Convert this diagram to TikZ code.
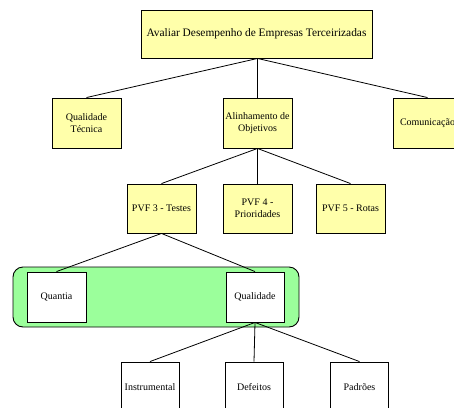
\documentclass[tikz,border=0pt]{standalone}
\usepackage{fontspec}
\setmainfont{Liberation Serif}
\definecolor{boxyellow}{RGB}{255,255,170}
\definecolor{groupgreen}{RGB}{155,255,155}

\begin{document}
\begin{tikzpicture}[x=1pt,y=-1pt]
        \tikzstyle{every node}+=[inner sep=0pt, font=\fontsize{10}{12.5}\selectfont, align=center]
        \tikzstyle{crit}=[draw=black, line width=0.9pt, fill=boxyellow, minimum width=69pt, minimum height=49pt]
        \tikzstyle{leaf}=[draw=black, line width=0.9pt, fill=white, minimum width=58pt, minimum height=50pt]
        \tikzstyle{link}=[black, line width=0.8pt]
        \clip (0,0) rectangle (454,407);
        \draw [line width=0.9pt, fill=groupgreen, rounded corners=10pt] (13,267) rectangle (299,327);
        \node [crit, minimum width=231pt, minimum height=48pt, font=\fontsize{11.4}{13}\selectfont] (goal) at (256.5,34) {Avaliar Desempenho de Empresas Terceirizadas};
        \node [crit, minimum height=50pt] (qtec) at (86.5,123) {Qualidade\\Técnica};
        \node [crit, minimum height=50pt] (alin) at (257.5,123) {Alinhamento de\\Objetivos};
        \node [crit, minimum height=50pt] (comu) at (427.5,123) {Comunicação};
        \node [crit] (pvf3) at (161.5,208.5) {PVF 3 - Testes};
        \node [crit] (pvf4) at (257.5,208.5) {PVF 4 -\\Prioridades};
        \node [crit] (pvf5) at (350.5,208.5) {PVF 5 - Rotas};
        \node [leaf, minimum width=59pt] (quan) at (56.5,297) {Quantia};
        \node [leaf] (qual) at (255,297) {Qualidade};
        \node [leaf] (inst) at (150,387) {Instrumental};
        \node [leaf] (defe) at (254,387) {Defeitos};
        \node [leaf] (padr) at (359.5,387) {Padrões};
        \draw [link] (goal.south -| alin.north) -- (qtec.north);
        \draw [link] (goal.south -| alin.north) -- (alin.north);
        \draw [link] (goal.south -| alin.north) -- (comu.north);
        \draw [link] (alin.south) -- (pvf3.north);
        \draw [link] (alin.south) -- (pvf4.north);
        \draw [link] (alin.south) -- (pvf5.north);
        \draw [link] (pvf3.south) -- (quan.north);
        \draw [link] (pvf3.south) -- (qual.north);
        \draw [link] (qual.south) -- (inst.north);
        \draw [link] (qual.south) -- (defe.north);
        \draw [link] (qual.south) -- (padr.north);
\end{tikzpicture}
\end{document}
